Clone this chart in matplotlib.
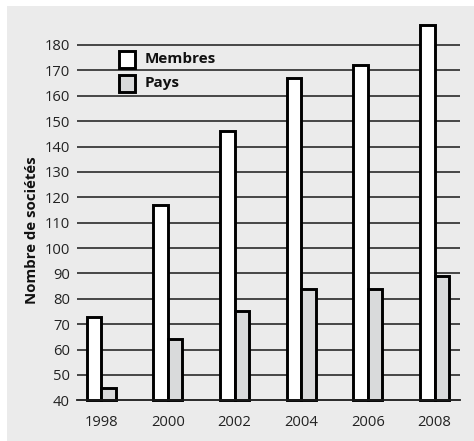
import matplotlib
matplotlib.use("Agg")
import matplotlib.pyplot as plt
from matplotlib.patches import Rectangle
import numpy as np

years = ["1998", "2000", "2002", "2004", "2006", "2008"]
membres = [73, 117, 146, 167, 172, 188]
pays = [45, 64, 75, 84, 84, 89]
yticks = list(range(40, 190, 10))

plt.rcParams['font.family'] = ['Open Sans', 'DejaVu Sans']

W, H = 474, 441
fig = plt.figure(figsize=(W / 100, H / 100), dpi=100)
fig.patch.set_facecolor('white')
fig.patches.append(Rectangle((7 / W, 0), 1 - 7 / W, (H - 6) / H,
                             transform=fig.transFigure, facecolor='#ebebeb',
                             edgecolor='none', zorder=-10))

ax_left, ax_right = 77 / W, 460 / W
ax_bottom = 1 - 400.3 / H
ylo, yhi = 40, 190
ppu = (400.3 - 45) / 140.0
top_px = 400.3 - (yhi - ylo) * ppu
ax_top = 1 - top_px / H
ax = fig.add_axes([ax_left, ax_bottom, ax_right - ax_left, ax_top - ax_bottom])
ax.set_facecolor('none')

x = np.arange(len(years))
bw = 0.218
edge_lw = 2.1
ax.bar(x - bw / 2, np.array(membres) - ylo, bw, bottom=ylo, color='white',
       edgecolor='black', linewidth=edge_lw, zorder=3, clip_on=False)
ax.bar(x + bw / 2, np.array(pays) - ylo, bw, bottom=ylo, color='#d9dadb',
       edgecolor='black', linewidth=edge_lw, zorder=3, clip_on=False)

# grid
for v in yticks[1:]:
    ax.axhline(v, color='#2a2a2a', linewidth=1.2, zorder=1)

c0, c5 = 101.3, 434.5
unit = (c5 - c0) / 5
xlo = (77 - c0) / unit
xhi = xlo + (460 - 77) / unit
ax.set_xlim(xlo, xhi)
ax.set_ylim(ylo, yhi)

for s in ['top', 'right', 'left']:
    ax.spines[s].set_visible(False)
ax.spines['bottom'].set_color('#1a1a1a')
ax.spines['bottom'].set_linewidth(1.3)
ax.spines['bottom'].set_zorder(4)

ax.set_xticks(x)
ax.set_xticklabels(years)
ax.set_yticks(yticks)
ax.set_yticklabels([str(v) for v in yticks])
ax.tick_params(axis='x', length=0, pad=10.5, labelsize=10.6, colors='#222222')
ax.tick_params(axis='y', length=0, pad=5, labelsize=10.6, colors='#222222')

ax.set_ylabel("Nombre de sociétés", fontsize=10.8, fontweight='bold', color='#111111')
ax.yaxis.set_label_coords((39.5 - 77) / (460 - 77), (400.3 - 230) / (400.3 - top_px))

def fx(px):
    return px / W

def fy(py):
    return 1 - py / H

sq = 19.5
for (ytop, color, label) in [(49.5, 'white', 'Membres'), (73.5, '#d9dadb', 'Pays')]:
    fig.patches.append(Rectangle((fx(117.3 + 1.5), fy(ytop + sq - 1.5)), (sq - 3) / W, (sq - 3) / H,
                                 transform=fig.transFigure, facecolor=color,
                                 edgecolor='black', linewidth=edge_lw, zorder=5))
    fig.text(fx(145.0), fy(ytop + sq / 2), label, fontsize=11, fontweight='bold',
             ha='left', va='center', color='#111111', zorder=6)

fig.savefig('out.png', dpi=100, facecolor=fig.get_facecolor())
